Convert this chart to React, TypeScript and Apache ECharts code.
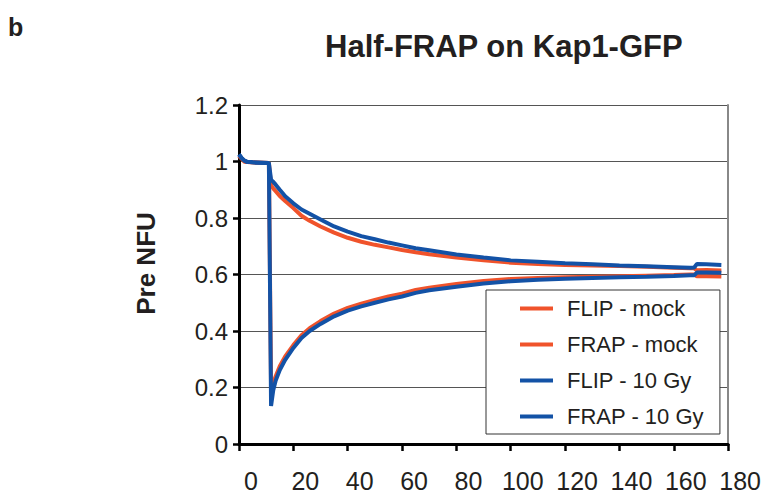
import React, { useEffect, useRef } from "react";
import * as echarts from "echarts";

// time in seconds
const times = [0, 1, 2, 3, 5, 8, 11, 11.8, 12.6, 13.5, 15, 17, 20, 23, 26, 30, 35, 40, 45, 50, 55, 60, 65, 70, 80, 90, 100, 110, 120, 130, 140, 150, 160, 166, 167.5, 168.5, 172, 177.5];

const flipMock = [1.02, 1.01, 1.0, 0.998, 0.997, 0.996, 0.995,
  0.915, 0.905, 0.895, 0.878, 0.86, 0.835, 0.808, 0.79, 0.77, 0.748, 0.73, 0.716, 0.705, 0.696, 0.687, 0.679, 0.672, 0.66, 0.65, 0.642, 0.637, 0.634, 0.632, 0.63, 0.627, 0.624, 0.622, 0.622, 0.615, 0.616, 0.614];
const frapMock = [1.02, 1.01, 1.0, 0.998, 0.997, 0.996, 0.995,
  0.2, 0.215, 0.24, 0.275, 0.31, 0.35, 0.385, 0.41, 0.435, 0.462, 0.482, 0.497, 0.51, 0.522, 0.532, 0.545, 0.553, 0.566, 0.577, 0.584, 0.588, 0.59, 0.592, 0.594, 0.596, 0.598, 0.6, 0.6, 0.594, 0.594, 0.593];
const flip10Gy = [1.025, 1.012, 1.003, 0.999, 0.997, 0.996, 0.995,
  0.935, 0.928, 0.918, 0.9, 0.877, 0.852, 0.83, 0.815, 0.795, 0.77, 0.752, 0.736, 0.725, 0.713, 0.703, 0.693, 0.686, 0.671, 0.66, 0.65, 0.645, 0.64, 0.636, 0.632, 0.629, 0.626, 0.624, 0.625, 0.637, 0.636, 0.634];
const frap10Gy = [1.025, 1.012, 1.003, 0.999, 0.997, 0.996, 0.995,
  0.135, 0.19, 0.225, 0.262, 0.298, 0.34, 0.375, 0.4, 0.425, 0.452, 0.472, 0.487, 0.5, 0.512, 0.522, 0.535, 0.544, 0.557, 0.568, 0.576, 0.581, 0.585, 0.588, 0.59, 0.592, 0.595, 0.597, 0.597, 0.607, 0.607, 0.606];

const seriesNames = ["FLIP - mock", "FRAP - mock", "FLIP - 10 Gy", "FRAP - 10 Gy"];
const seriesValues = [flipMock, frapMock, flip10Gy, frap10Gy];

const ORANGE = "#F0532B";
const BLUE = "#1352A6";
const seriesColors = [ORANGE, ORANGE, BLUE, BLUE];
const FONT = "'Liberation Sans', Arial, Helvetica, sans-serif";
const TEXT = "#231F20";

export default function App() {
  const ref = useRef<HTMLDivElement>(null);
  useEffect(() => {
    if (!ref.current) return;
    const chart = echarts.init(ref.current, undefined, { renderer: "svg" });
    chart.setOption({
      animation: false,
      backgroundColor: "#ffffff",
      textStyle: { fontFamily: FONT },
      title: [
        {
          text: "b",
          left: 3,
          top: 9,
          textStyle: { fontFamily: FONT, fontWeight: "bold", fontSize: 25, color: TEXT },
        },
        {
          text: "Half-FRAP on Kap1-GFP",
          left: 320,
          top: 26,
          textStyle: { fontFamily: FONT, fontWeight: "bold", fontSize: 31, color: TEXT },
        },
      ],
      grid: { left: 239, right: 34, top: 105, bottom: 48, containLabel: false },
      legend: {
        data: seriesNames,
        orient: "vertical",
        left: 486,
        top: 290,
        padding: [7, 16, 6, 34],
        itemGap: 13,
        itemWidth: 33,
        itemHeight: 4,
        icon: "rect",
        borderColor: "#333",
        borderWidth: 1,
        backgroundColor: "#fff",
        textStyle: { fontFamily: FONT, fontSize: 22, color: TEXT, padding: [0, 0, 0, 9], lineHeight: 23 },
      },
      xAxis: {
        type: "value",
        min: 0,
        max: 180,
        interval: 20,
        axisLine: { show: true, lineStyle: { color: "#000", width: 3 } },
        axisTick: { show: true, length: 7, lineStyle: { color: "#000", width: 2.5 } },
        splitLine: { show: false },
        axisLabel: {
          fontFamily: FONT,
          fontSize: 25,
          color: TEXT,
          margin: 24,
          padding: [0, 0, 0, 24],
        },
      },
      yAxis: [
        {
          type: "value",
          min: 0,
          max: 1.2,
          interval: 0.2,
          name: "Pre NFU",
          nameLocation: "middle",
          nameGap: 80,
          nameTextStyle: { fontFamily: FONT, fontWeight: "bold", fontSize: 26, color: TEXT, padding: [0, 0, 0, 22] },
          axisLine: { show: true, lineStyle: { color: "#000", width: 3 } },
          axisTick: { show: true, length: 6, lineStyle: { color: "#000", width: 2.5 } },
          splitLine: { show: true, lineStyle: { color: "#555", width: 1.2 } },
          axisLabel: { fontFamily: FONT, fontSize: 24, color: TEXT, margin: 11 },
        },
        {
          type: "value",
          position: "right",
          min: 0,
          max: 1.2,
          interval: 0.2,
          axisLine: { show: true, lineStyle: { color: "#888", width: 2 } },
          axisTick: { show: false },
          axisLabel: { show: false },
          splitLine: { show: false },
        },
      ],
      series: seriesNames.map((name, i) => ({
        name,
        type: "line",
        yAxisIndex: 0,
        showSymbol: false,
        symbol: "none",
        color: seriesColors[i],
        lineStyle: { color: seriesColors[i], width: 4 },
        data: times.map((t, j) => [t, seriesValues[i][j]]),
      })),
    });
    return () => chart.dispose();
  }, []);
  return (
    <div
      ref={ref}
      style={{ position: "fixed", left: 0, top: 0, width: 764, height: 493, background: "#fff" }}
    />
  );
}
